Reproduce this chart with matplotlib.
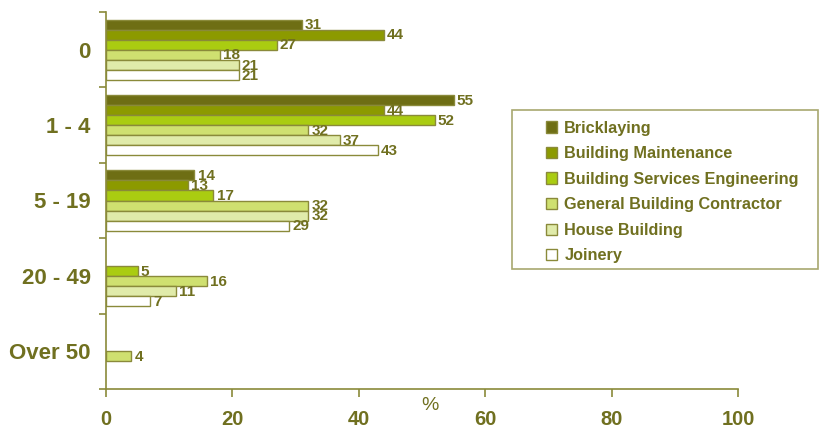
import numpy as np
import matplotlib.pyplot as plt
from matplotlib.patches import Rectangle

plt.rcParams['font.family'] = ['Liberation Sans', 'DejaVu Sans']

# Firm size bands (employees) and the share of each trade in every band
bands = ["0", "1 - 4", "5 - 19", "20 - 49", "Over 50"]
trades = ["Bricklaying", "Building Maintenance", "Building Services Engineering",
          "General Building Contractor", "House Building", "Joinery"]
bricklaying = [31, 55, 14, np.nan, np.nan]
maintenance = [44, 44, 13, np.nan, np.nan]
services = [27, 52, 17, 5, np.nan]
general = [18, 32, 32, 16, 4]
house = [21, 37, 32, 11, np.nan]
joinery = [21, 43, 29, 7, np.nan]
xticks = [0, 20, 40, 60, 80, 100]

series = [bricklaying, maintenance, services, general, house, joinery]
colours = ["#6e6e14", "#8c9a00", "#aacc11", "#cfe070", "#e0ebaa", "#ffffff"]
olive = "#707020"
edge = "#8a8a3a"

fig = plt.figure(figsize=(8.2, 4.29), dpi=100)
ax = fig.add_axes([106 / 820, 1 - 389 / 429, 632 / 820, 377 / 429])

y = np.arange(len(bands))
h = 0.8 / len(series)
for i, (vals, col) in enumerate(zip(series, colours)):
    pos = y + (i - 2.5) * h
    v = np.array(vals, dtype=float)
    ok = ~np.isnan(v)
    ax.barh(pos[ok], v[ok], height=h, color=col, edgecolor=edge, linewidth=1.0,
            label=trades[i])
    for p, val in zip(pos[ok], v[ok]):
        ax.text(val + 0.5, p + 0.01, f"{val:.0f}", va="center", ha="left",
                fontsize=11, fontweight="bold", color=olive)

ax.set_xlim(0, 100)
ax.set_ylim(len(bands) - 0.5, -0.5)
ax.set_xticks(xticks)
ax.set_xticklabels([str(t) for t in xticks])
ax.set_yticks(y)
ax.set_yticklabels(bands)
ax.set_yticks(np.arange(-0.5, len(bands)), minor=True)

for s in ["top", "right"]:
    ax.spines[s].set_visible(False)
for s in ["left", "bottom"]:
    ax.spines[s].set_color(edge)
    ax.spines[s].set_linewidth(1.2)

ax.tick_params(axis="x", colors=edge, length=6, width=1.2, pad=9,
               labelsize=14.5, labelcolor=olive)
ax.tick_params(axis="y", which="major", length=0, pad=11, labelsize=16,
               labelcolor=olive)
ax.tick_params(axis="y", which="minor", length=5, width=1.2, colors=edge)
for lab in ax.get_xticklabels() + ax.get_yticklabels():
    lab.set_fontweight("bold")

fig.text(430 / 820, 1 - 405 / 429, "%", ha="center", va="center",
         fontsize=14, color=olive)

# legend box drawn separately so its size can be set exactly
fig.patches.append(Rectangle((512 / 820, 1 - 269 / 429), 306 / 820, 159 / 429,
                             transform=fig.transFigure, facecolor="white",
                             edgecolor="#a8a870", linewidth=1.2))
leg = fig.legend(loc="upper left", bbox_to_anchor=(531 / 820, 1 - 106 / 429),
                 frameon=False, handlelength=0.7, handleheight=0.7,
                 handletextpad=0.45, labelspacing=0.65,
                 prop={"size": 11.7, "weight": "bold"})
for t in leg.get_texts():
    t.set_color(olive)

fig.savefig("out.png", dpi=100)
